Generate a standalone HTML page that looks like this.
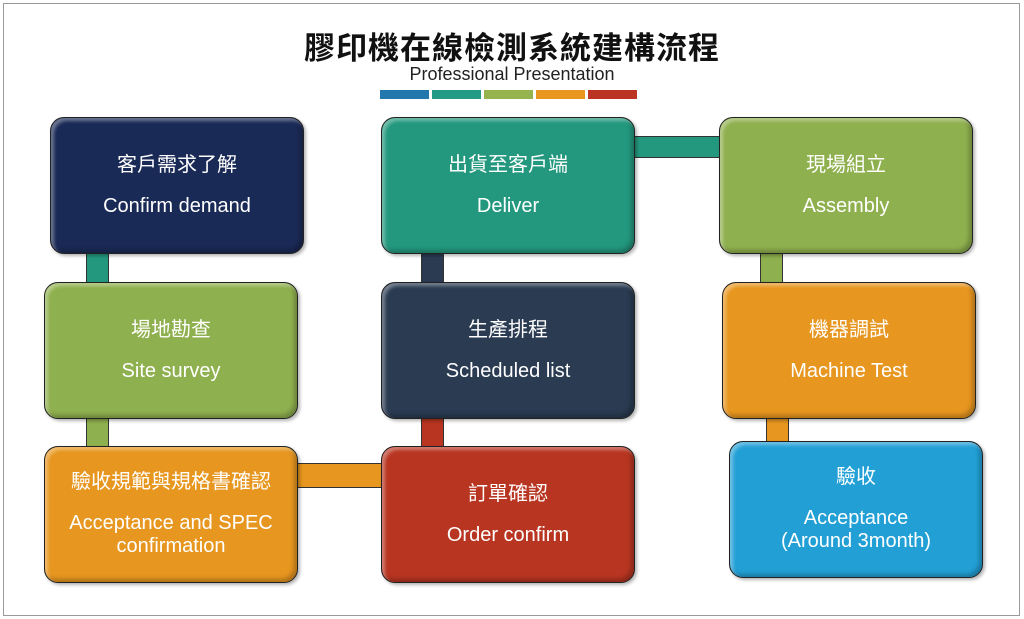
<!DOCTYPE html>
<html><head><meta charset="utf-8"><style>
body{margin:0;width:1024px;height:619px;background:#fff;position:relative;overflow:hidden;font-family:"Liberation Sans","Noto Sans CJK TC",sans-serif}
.frame{position:absolute;left:3px;top:3px;width:1015px;height:611px;border:1px solid #9a9a9a}
.b{position:absolute;width:254px;height:137px;border:1.5px solid #222;border-radius:14px;color:#fff;text-align:center;box-sizing:border-box;box-shadow:inset 3px 3px 3px rgba(255,255,255,.35),inset -3px -3px 4px rgba(0,0,0,.25),2px 2px 3px rgba(0,0,0,.3);font-size:20px;display:flex;flex-direction:column;justify-content:center;line-height:1.15}
.b .c{margin-bottom:18px}
.k{position:absolute;border:1px solid #333;box-sizing:border-box}
.bar{position:absolute;top:90px;height:9px;width:49px}
</style></head><body>
<div class="frame"></div>
<div style="position:absolute;left:0;width:1024px;top:26px;text-align:center;font-size:31px;font-weight:bold;color:#111;font-family:'Noto Sans CJK TC',sans-serif;letter-spacing:1px;line-height:40px">膠印機在線檢測系統建構流程</div>
<div style="position:absolute;left:0;width:1024px;top:64px;text-align:center;font-size:18px;color:#222">Professional Presentation</div>
<div class="bar" style="left:380px;background:#2277ad"></div>
<div class="bar" style="left:432px;background:#239a83"></div>
<div class="bar" style="left:484px;background:#95b44e"></div>
<div class="bar" style="left:536px;background:#e8961e"></div>
<div class="bar" style="left:588px;background:#bb3322"></div>

<div class="k" style="left:86px;top:250px;width:23px;height:36px;background:#23987e"></div>
<div class="k" style="left:86px;top:415px;width:23px;height:35px;background:#8fb04e"></div>
<div class="k" style="left:294px;top:463px;width:90px;height:25px;background:#e7961f"></div>
<div class="k" style="left:421px;top:415px;width:23px;height:35px;background:#b83521"></div>
<div class="k" style="left:421px;top:250px;width:23px;height:36px;background:#2a3b52"></div>
<div class="k" style="left:631px;top:136px;width:91px;height:22px;background:#23987e"></div>
<div class="k" style="left:760px;top:250px;width:23px;height:36px;background:#8fb04e"></div>
<div class="k" style="left:766px;top:415px;width:23px;height:30px;background:#e7961f"></div>

<div class="b" style="left:50px;top:117px;background:#1a2a56"><div class="c">客戶需求了解</div><div>Confirm demand</div></div>
<div class="b" style="left:44px;top:282px;background:#8fb04e"><div class="c">場地勘查</div><div>Site survey</div></div>
<div class="b" style="left:44px;top:446px;background:#e7961f"><div class="c">驗收規範與規格書確認</div><div>Acceptance and SPEC<br>confirmation</div></div>
<div class="b" style="left:381px;top:117px;background:#23987e"><div class="c">出貨至客戶端</div><div>Deliver</div></div>
<div class="b" style="left:381px;top:282px;background:#2a3b52"><div class="c">生產排程</div><div>Scheduled list</div></div>
<div class="b" style="left:381px;top:446px;background:#b83521"><div class="c">訂單確認</div><div>Order confirm</div></div>
<div class="b" style="left:719px;top:117px;background:#8fb04e"><div class="c">現場組立</div><div>Assembly</div></div>
<div class="b" style="left:722px;top:282px;background:#e7961f"><div class="c">機器調試</div><div>Machine Test</div></div>
<div class="b" style="left:729px;top:441px;background:#22a0d6"><div class="c">驗收</div><div>Acceptance<br>(Around 3month)</div></div>
</body></html>
